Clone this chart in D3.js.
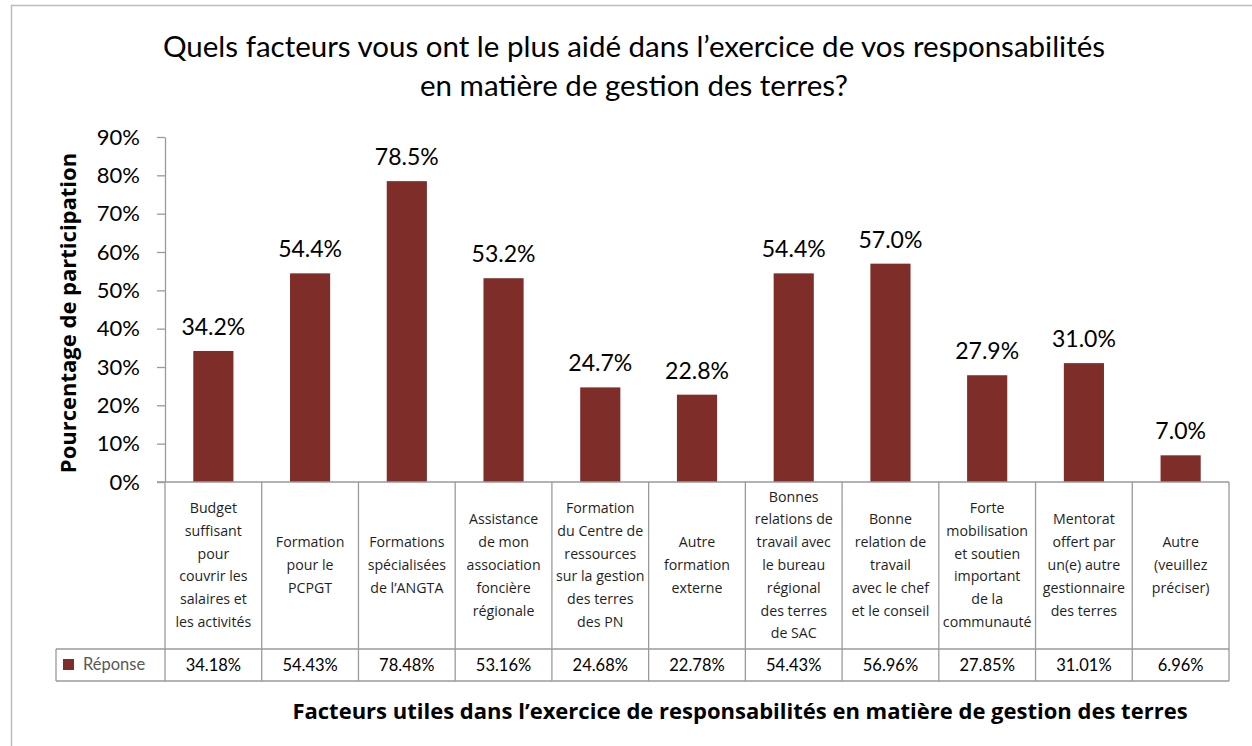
<!DOCTYPE html>
<html>
<head>
<meta charset="utf-8">
<script src="https://cdn.jsdelivr.net/npm/d3@7"></script>
<style>
  body { margin: 0; background: #fff; }
  svg { display: block; }
</style>
</head>
<body>
<script>

// data
const categories = [
  "Budget suffisant pour couvrir les salaires et les activités",
  "Formation pour le PCPGT",
  "Formations spécialisées de l’ANGTA",
  "Assistance de mon association foncière régionale",
  "Formation du Centre de ressources sur la gestion des terres des PN",
  "Autre formation externe",
  "Bonnes relations de travail avec le bureau régional des terres de SAC",
  "Bonne relation de travail avec le chef et le conseil",
  "Forte mobilisation et soutien important de la communauté",
  "Mentorat offert par un(e) autre gestionnaire des terres",
  "Autre (veuillez préciser)"
]
// line breaks as they appear in the table cells
const categoryLines = [
  ["Budget", "suffisant", "pour", "couvrir les", "salaires et", "les activités"],
  ["Formation", "pour le", "PCPGT"],
  ["Formations", "spécialisées", "de l’ANGTA"],
  ["Assistance", "de mon", "association", "foncière", "régionale"],
  ["Formation", "du Centre de", "ressources", "sur la gestion", "des terres", "des PN"],
  ["Autre", "formation", "externe"],
  ["Bonnes", "relations de", "travail avec", "le bureau", "régional", "des terres", "de SAC"],
  ["Bonne", "relation de", "travail", "avec le chef", "et le conseil"],
  ["Forte", "mobilisation", "et soutien", "important", "de la", "communauté"],
  ["Mentorat", "offert par", "un(e) autre", "gestionnaire", "des terres"],
  ["Autre", "(veuillez", "préciser)"]
]
const responses = [34.18, 54.43, 78.48, 53.16, 24.68, 22.78, 54.43, 56.96, 27.85, 31.01, 6.96]
const yTicks = [0, 10, 20, 30, 40, 50, 60, 70, 80, 90]

const seriesName = "Réponse"
const titleLines = [
  "Quels facteurs vous ont le plus aidé dans l’exercice de vos responsabilités",
  "en matière de gestion des terres?"
]
const yTitle = "Pourcentage de participation"
const xTitle = "Facteurs utiles dans l’exercice de responsabilités en matière de gestion des terres"

const width = 1252, height = 746
const barColor = "#7f2d28"
const gridColor = "#9a9a9a"
const font = "Lato, 'Open Sans', sans-serif"
const labelFont = "'Open Sans', sans-serif"

const svg = d3.select("body").append("svg")
  .attr("width", width)
  .attr("height", height)

// chart frame
svg.append("rect")
  .attr("x", 11.5).attr("y", 5.5)
  .attr("width", 1400).attr("height", 900)
  .attr("fill", "none")
  .attr("stroke", "#bdbdbd")
  .attr("stroke-width", 1.5)

// title
svg.append("g").selectAll("text")
  .data(titleLines)
  .join("text")
    .attr("x", 634)
    .attr("y", (d, i) => 57 + i * 39)
    .attr("text-anchor", "middle")
    .attr("font-family", font)
    .attr("font-size", 29.5)
    .attr("fill", "#000")
    .text(d => d)

// scales
const x = d3.scaleBand()
  .domain(categories)
  .range([165, 1229])
  .padding(0)

const y = d3.scaleLinear()
  .domain([0, 90])
  .range([482, 137])

const barW = x.bandwidth() * 0.415

// y axis
const yAxis = svg.append("g")
  .attr("transform", "translate(165,0)")
  .call(d3.axisLeft(y)
    .tickValues(yTicks)
    .tickFormat(d => d + "%")
    .tickSize(8)
    .tickSizeOuter(0)
    .tickPadding(17))
yAxis.select(".domain").attr("stroke", gridColor).attr("stroke-width", 1.3)
yAxis.selectAll(".tick line").attr("stroke", gridColor).attr("stroke-width", 1.3)
yAxis.selectAll(".tick text")
  .attr("font-family", font)
  .attr("font-size", 22)
  .attr("fill", "#000")

// bars
svg.append("g").selectAll("rect")
  .data(responses)
  .join("rect")
    .attr("x", (d, i) => x(categories[i]) + x.bandwidth() / 2 - barW / 2)
    .attr("y", d => y(d))
    .attr("width", barW)
    .attr("height", d => y(0) - y(d))
    .attr("fill", barColor)

// value labels above the bars
svg.append("g").selectAll("text")
  .data(responses)
  .join("text")
    .attr("x", (d, i) => x(categories[i]) + x.bandwidth() / 2)
    .attr("y", d => y(d) - 16)
    .attr("text-anchor", "middle")
    .attr("font-family", font)
    .attr("font-size", 23)
    .attr("fill", "#000")
    .text(d => d.toFixed(1) + "%")

// data table below the axis
const tableTop = 482, rowTop = 649, rowBottom = 681, legendLeft = 56
const table = svg.append("g")
  .attr("stroke", gridColor)
  .attr("stroke-width", 1.3)
  .attr("fill", "none")

// x axis line
table.append("line")
  .attr("x1", 157).attr("x2", 1229)
  .attr("y1", tableTop).attr("y2", tableTop)

// column borders
const edges = categories.map(c => x(c)).concat([x.range()[1]])
table.selectAll(".col")
  .data(edges)
  .join("line")
    .attr("class", "col")
    .attr("x1", d => d).attr("x2", d => d)
    .attr("y1", tableTop).attr("y2", rowBottom)

// value row borders
table.append("line")
  .attr("x1", legendLeft).attr("x2", 1229)
  .attr("y1", rowTop).attr("y2", rowTop)
table.append("line")
  .attr("x1", legendLeft).attr("x2", 1229)
  .attr("y1", rowBottom).attr("y2", rowBottom)
table.append("line")
  .attr("x1", legendLeft).attr("x2", legendLeft)
  .attr("y1", rowTop).attr("y2", rowBottom)

// category labels in the cells
const lineH = 22.8
const cells = svg.append("g").selectAll("g")
  .data(categoryLines)
  .join("g")
    .attr("transform", (d, i) => `translate(${x(categories[i]) + x.bandwidth() / 2},0)`)
cells.selectAll("text")
  .data(d => d.map((t, j) => ({ t, j, n: d.length })))
  .join("text")
    .attr("y", d => 565 - (d.n - 1) * lineH / 2 + d.j * lineH + 5)
    .attr("text-anchor", "middle")
    .attr("font-family", labelFont)
    .attr("font-size", 14.2)
    .attr("fill", "#1f1f1f")
    .text(d => d.t)

// legend key + series name
svg.append("rect")
  .attr("x", 63).attr("y", 659)
  .attr("width", 11).attr("height", 11)
  .attr("fill", barColor)
svg.append("text")
  .attr("x", 83).attr("y", 670)
  .attr("font-family", font)
  .attr("font-size", 16.5)
  .attr("fill", "#595959")
  .text(seriesName)

// values row
svg.append("g").selectAll("text")
  .data(responses)
  .join("text")
    .attr("x", (d, i) => x(categories[i]) + x.bandwidth() / 2)
    .attr("y", 671)
    .attr("text-anchor", "middle")
    .attr("font-family", font)
    .attr("font-size", 16.5)
    .attr("fill", "#000")
    .text(d => d.toFixed(2) + "%")

// axis titles
svg.append("text")
  .attr("transform", "translate(76,313) rotate(-90)")
  .attr("text-anchor", "middle")
  .attr("font-family", labelFont)
  .attr("font-weight", "bold")
  .attr("font-size", 22)
  .attr("fill", "#000")
  .text(yTitle)

svg.append("text")
  .attr("x", 740)
  .attr("y", 719)
  .attr("text-anchor", "middle")
  .attr("font-family", labelFont)
  .attr("font-weight", "bold")
  .attr("font-size", 22)
  .attr("fill", "#000")
  .text(xTitle)

</script>
</body>
</html>
